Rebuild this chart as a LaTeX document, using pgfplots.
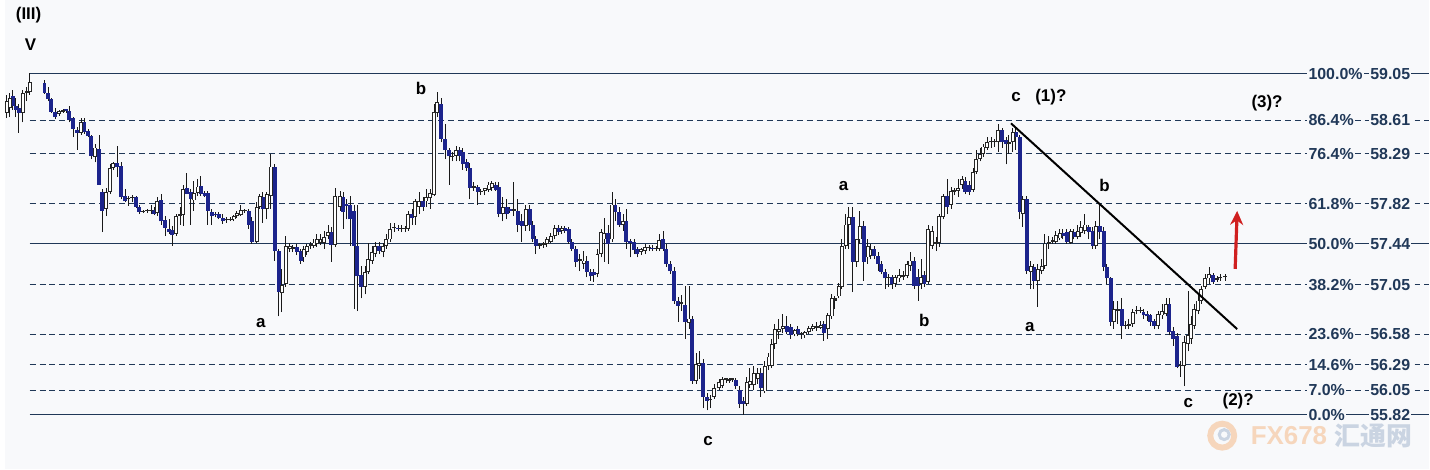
\documentclass[border=0pt]{standalone}
\usepackage{pgfplots}
\pgfplotsset{compat=1.18}
\usepackage{pgfplotstable}
\usepackage{fontspec}
\setmainfont{Liberation Sans}
\newfontfamily\cjk{Noto Sans CJK SC}
\usetikzlibrary{arrows.meta}

\definecolor{bgc}{RGB}{248,249,251}
\definecolor{fibcol}{RGB}{32,56,88}
\definecolor{bearc}{RGB}{28,36,140}
\definecolor{arrowred}{RGB}{208,32,32}
\definecolor{wmorange}{RGB}{246,214,188}
\definecolor{wmblue}{RGB}{202,212,226}

\tikzset{
  wave/.style={font=\bfseries\fontsize{8.5}{9}\selectfont, text=black},
  fiblab/.style={anchor=west, fill=bgc, inner sep=0.6pt, text=fibcol,
    font=\bfseries\fontsize{8}{9}\selectfont},
  solidfib/.style={draw=fibcol, line width=0.55pt},
  dashfib/.style={draw=fibcol, line width=0.5pt, dash pattern=on 3pt off 2pt},
}

% x = candle position, o h l c = open high low close
\pgfplotstableread{
x o h l c
2 58.68 58.85 58.63 58.79
5 58.73 58.87 58.64 58.82
8 58.84 58.90 58.71 58.74
11 58.74 58.82 58.64 58.71
14 58.73 58.76 58.49 58.68
18 58.68 58.90 58.59 58.87
22 58.87 58.92 58.79 58.89
25 58.88 59.06 58.85 58.97
40 58.96 58.99 58.86 58.87
44 58.87 58.92 58.79 58.81
47 58.81 58.82 58.68 58.69
51 58.69 58.73 58.62 58.64
55 58.67 58.71 58.65 58.70
59 58.69 58.72 58.68 58.70
62 58.71 58.72 58.68 58.70
65 58.70 58.74 58.59 58.61
69 58.63 58.64 58.45 58.53
73 58.52 58.55 58.33 58.49
77 58.49 58.63 58.47 58.59
80 58.59 58.63 58.48 58.50
84 58.51 58.53 58.45 58.46
87 58.46 58.47 58.24 58.27
91 58.26 58.38 58.21 58.35
95 58.34 58.47 58.00 58.00
98 57.93 57.96 57.55 57.75
102 57.77 57.97 57.70 57.93
106 57.93 58.19 57.91 58.16
109 58.16 58.21 58.14 58.20
113 58.20 58.37 58.07 58.17
117 58.18 58.21 57.86 57.88
121 57.89 57.96 57.83 57.84
124 57.86 57.89 57.80 57.87
128 57.87 57.90 57.83 57.88
132 57.88 57.89 57.78 57.79
135 57.79 57.81 57.72 57.74
139 57.74 57.76 57.73 57.75
143 57.75 57.77 57.73 57.76
147 57.75 57.81 57.72 57.76
150 57.76 57.79 57.71 57.72
153 57.73 57.88 57.70 57.84
157 57.85 57.91 57.62 57.65
161 57.66 57.70 57.51 57.59
165 57.58 57.67 57.53 57.55
168 57.57 57.61 57.42 57.52
172 57.53 57.72 57.51 57.70
176 57.70 57.79 57.62 57.72
179 57.71 58.00 57.61 57.96
183 57.97 58.11 57.91 57.91
187 57.93 57.96 57.62 57.86
190 57.85 58.03 57.75 57.92
194 57.92 58.05 57.89 57.98
197 57.99 58.08 57.89 57.91
201 57.92 57.94 57.88 57.89
204 57.92 57.94 57.62 57.75
208 57.74 57.77 57.62 57.70
212 57.72 57.74 57.69 57.71
215 57.72 57.74 57.67 57.68
219 57.68 57.72 57.63 57.65
223 57.66 57.69 57.64 57.67
227 57.66 57.69 57.65 57.67
230 57.67 57.71 57.65 57.70
233 57.70 57.75 57.68 57.73
237 57.71 57.81 57.70 57.76
241 57.75 57.77 57.73 57.76
245 57.75 57.77 57.58 57.62
248 57.65 57.69 57.44 57.46
253 57.46 57.83 57.45 57.79
256 57.79 57.91 57.77 57.89
259 57.88 57.93 57.64 57.77
263 57.77 57.93 57.67 57.91
267 57.89 58.29 57.77 58.17
271 58.17 58.19 57.28 57.37
275 57.37 57.39 56.75 56.98
278 56.97 57.20 56.79 57.05
282 57.06 57.51 57.03 57.42
286 57.39 57.45 57.36 57.42
289 57.39 57.43 57.36 57.41
293 57.41 57.44 57.33 57.36
297 57.37 57.39 57.25 57.28
300 57.31 57.42 57.27 57.39
303 57.36 57.44 57.33 57.42
307 57.42 57.46 57.39 57.43
310 57.42 57.48 57.40 57.45
313 57.44 57.53 57.41 57.48
317 57.45 57.53 57.43 57.48
321 57.45 57.56 57.39 57.50
325 57.51 57.62 57.48 57.55
328 57.55 57.60 57.27 57.43
332 57.43 57.97 57.41 57.89
337 57.79 57.94 57.75 57.89
340 57.88 57.93 57.58 57.74
343 57.81 57.86 57.67 57.80
347 57.81 57.89 57.42 57.67
351 57.75 57.81 56.82 57.42
354 57.42 57.81 56.80 57.13
358 57.14 57.23 56.92 57.03
362 57.03 57.23 56.96 57.17
365 57.17 57.45 57.15 57.29
369 57.28 57.42 57.25 57.36
372 57.34 57.46 57.31 57.42
376 57.42 57.46 57.34 57.37
380 57.36 57.45 57.31 57.42
383 57.42 57.53 57.39 57.48
387 57.48 57.64 57.46 57.58
391 57.59 57.64 57.55 57.60
395 57.59 57.62 57.56 57.58
398 57.58 57.62 57.55 57.59
402 57.58 57.61 57.55 57.59
405 57.58 57.75 57.56 57.72
409 57.72 57.77 57.62 57.68
412 57.69 57.86 57.62 57.84
416 57.79 57.93 57.72 57.84
420 57.84 57.88 57.75 57.79
423 57.84 57.96 57.79 57.88
427 57.87 57.96 57.77 57.92
431 57.90 58.76 57.89 58.69
434 58.68 58.88 58.64 58.78
438 58.76 58.82 58.40 58.43
442 58.43 58.57 58.24 58.33
446 58.33 58.35 58.00 58.27
449 58.26 58.31 58.22 58.27
453 58.27 58.37 58.22 58.33
457 58.33 58.36 58.22 58.27
460 58.31 58.35 58.14 58.19
464 58.21 58.24 58.13 58.16
467 58.16 58.20 57.86 57.97
471 57.97 58.02 57.94 57.98
475 57.98 58.00 57.81 57.93
478 57.93 57.96 57.90 57.94
482 57.94 57.97 57.90 57.97
486 57.95 58.02 57.93 58.00
489 57.97 58.03 57.94 58.01
493 58.00 58.02 57.94 57.95
496 57.98 58.02 57.69 57.72
500 57.72 57.88 57.65 57.79
504 57.79 57.86 57.67 57.72
507 57.77 57.79 57.73 57.75
511 57.75 58.02 57.70 57.77
515 57.75 57.86 57.55 57.62
519 57.65 57.72 57.46 57.61
523 57.61 57.81 57.56 57.77
527 57.77 57.81 57.56 57.62
530 57.62 57.65 57.46 57.48
533 57.48 57.51 57.34 57.42
537 57.42 57.45 57.39 57.43
541 57.43 57.46 57.40 57.44
544 57.44 57.50 57.41 57.48
548 57.46 57.54 57.45 57.51
552 57.51 57.62 57.48 57.59
556 57.59 57.62 57.52 57.55
559 57.56 57.61 57.53 57.59
562 57.59 57.61 57.54 57.56
566 57.58 57.60 57.44 57.46
569 57.46 57.48 57.37 57.39
573 57.39 57.42 57.22 57.27
577 57.28 57.34 57.18 57.29
581 57.25 57.37 57.20 57.28
584 57.28 57.32 57.12 57.17
588 57.17 57.20 57.09 57.13
591 57.17 57.20 57.08 57.14
595 57.15 57.39 57.12 57.34
599 57.34 57.58 57.31 57.55
602 57.48 57.68 57.27 57.54
606 57.54 57.62 57.25 57.44
610 57.48 57.93 57.46 57.81
613 57.81 57.86 57.65 57.74
617 57.74 57.79 57.60 57.62
621 57.62 57.72 57.56 57.65
624 57.65 57.77 57.39 57.46
628 57.46 57.48 57.31 57.45
632 57.46 57.48 57.34 57.38
635 57.39 57.41 57.31 57.34
639 57.36 57.40 57.33 57.39
643 57.37 57.44 57.34 57.41
647 57.40 57.43 57.37 57.41
650 57.40 57.43 57.37 57.39
654 57.39 57.42 57.37 57.40
657 57.39 57.53 57.37 57.47
661 57.48 57.56 57.37 57.39
664 57.39 57.44 57.22 57.25
668 57.25 57.28 57.15 57.18
672 57.18 57.22 56.87 56.90
676 56.90 56.93 56.70 56.85
679 56.87 56.95 56.80 56.89
683 56.86 57.04 56.54 56.70
687 56.69 57.04 56.63 56.73
690 56.73 56.75 56.11 56.14
694 56.14 56.40 56.11 56.30
697 56.28 56.42 56.16 56.31
701 56.31 56.35 55.88 55.99
705 55.99 56.02 55.86 55.95
708 55.96 56.01 55.88 55.97
712 55.99 56.11 55.97 56.07
717 56.07 56.16 56.05 56.13
720 56.09 56.18 56.07 56.16
724 56.15 56.17 56.12 56.16
727 56.14 56.17 56.12 56.16
730 56.15 56.17 56.13 56.15
734 56.15 56.17 56.06 56.09
738 56.05 56.09 55.88 55.92
742 55.95 55.99 55.82 55.92
745 55.92 56.18 55.90 56.13
748 56.10 56.26 56.07 56.14
752 56.10 56.28 56.05 56.21
756 56.16 56.26 56.11 56.21
759 56.21 56.26 55.99 56.07
763 56.04 56.33 56.02 56.28
767 56.28 56.40 56.24 56.37
770 56.28 56.54 56.26 56.49
773 56.49 56.68 56.44 56.63
777 56.60 56.73 56.54 56.63
781 56.63 56.77 56.59 56.66
785 56.66 56.75 56.58 56.60
789 56.65 56.68 56.54 56.57
793 56.58 56.63 56.56 56.62
796 56.63 56.66 56.56 56.58
800 56.58 56.60 56.54 56.59
803 56.57 56.61 56.55 56.60
807 56.60 56.66 56.58 56.64
811 56.63 56.68 56.61 56.66
815 56.64 56.70 56.61 56.66
819 56.64 56.71 56.63 56.67
822 56.68 56.71 56.52 56.59
826 56.63 56.78 56.54 56.76
830 56.75 56.96 56.73 56.92
833 56.90 56.94 56.82 56.92
837 56.94 57.07 56.92 57.04
840 57.03 57.48 57.01 57.42
844 57.42 57.72 57.39 57.62
847 57.62 57.79 57.39 57.69
851 57.69 57.79 56.98 57.27
855 57.27 57.34 57.22 57.48
858 57.48 57.75 57.44 57.61
862 57.61 57.65 57.09 57.27
866 57.31 57.48 57.25 57.42
869 57.32 57.44 57.29 57.39
873 57.39 57.42 57.29 57.32
877 57.32 57.36 57.18 57.25
880 57.25 57.28 57.15 57.17
884 57.17 57.20 57.01 57.11
887 57.11 57.15 57.03 57.12
891 57.12 57.14 57.01 57.06
894 57.06 57.14 57.03 57.12
898 57.11 57.20 57.08 57.14
902 57.12 57.18 57.10 57.14
906 57.13 57.28 57.11 57.25
909 57.23 57.36 57.18 57.28
913 57.28 57.31 57.01 57.04
917 57.12 57.20 56.90 57.04
920 57.06 57.29 57.01 57.12
923 57.14 57.18 57.03 57.06
927 57.08 57.62 57.06 57.58
931 57.42 57.61 57.39 57.56
935 57.44 57.50 57.37 57.46
938 57.45 57.72 57.41 57.70
942 57.69 57.91 57.67 57.89
946 57.89 58.05 57.72 57.79
950 57.81 57.98 57.77 57.94
953 57.93 57.97 57.90 57.95
957 57.94 58.05 57.88 57.97
961 58.00 58.08 57.96 58.05
964 58.03 58.07 57.91 57.93
968 58.00 58.03 57.90 57.93
972 57.95 58.16 57.93 58.12
975 58.12 58.33 58.10 58.24
979 58.24 58.35 58.22 58.29
982 58.29 58.38 58.26 58.36
986 58.35 58.45 58.33 58.40
990 58.40 58.45 58.35 58.41
993 58.40 58.43 58.36 58.41
997 58.40 58.57 58.31 58.52
1001 58.52 58.54 58.35 58.40
1005 58.42 58.45 58.19 58.38
1008 58.38 58.47 58.29 58.40
1012 58.40 58.54 58.31 58.50
1015 58.50 58.54 58.33 58.45
1019 58.45 58.47 57.67 57.74
1022 57.72 57.89 57.60 57.86
1026 57.86 57.89 57.15 57.18
1030 57.17 57.28 57.01 57.23
1033 57.22 57.25 57.01 57.09
1037 57.09 57.25 56.84 57.20
1041 57.18 57.29 57.15 57.23
1044 57.23 57.53 57.20 57.44
1048 57.44 57.51 57.39 57.46
1052 57.46 57.50 57.44 57.47
1055 57.46 57.56 57.44 57.52
1059 57.49 57.58 57.47 57.54
1062 57.54 57.58 57.48 57.51
1066 57.55 57.58 57.44 57.46
1070 57.45 57.58 57.44 57.56
1073 57.55 57.58 57.48 57.50
1077 57.50 57.62 57.48 57.56
1080 57.54 57.65 57.50 57.60
1084 57.56 57.72 57.53 57.62
1088 57.60 57.62 57.48 57.55
1092 57.56 57.60 57.39 57.42
1095 57.42 57.65 57.39 57.61
1099 57.61 57.81 57.48 57.55
1103 57.56 57.60 57.18 57.22
1106 57.22 57.25 57.06 57.11
1110 57.11 57.12 56.66 56.70
1113 56.70 56.90 56.63 56.82
1117 56.80 56.90 56.68 56.82
1121 56.82 56.92 56.54 56.66
1125 56.66 56.71 56.63 56.67
1128 56.66 56.73 56.63 56.68
1132 56.68 56.82 56.65 56.79
1136 56.80 56.85 56.77 56.81
1140 56.80 56.84 56.78 56.81
1143 56.79 56.82 56.73 56.76
1147 56.77 56.80 56.71 56.75
1150 56.76 56.77 56.66 56.70
1154 56.71 56.73 56.63 56.66
1158 56.66 56.80 56.63 56.77
1162 56.76 56.87 56.73 56.80
1166 56.77 56.92 56.75 56.87
1169 56.87 56.92 56.57 56.60
1173 56.61 56.65 56.47 56.54
1177 56.56 56.59 56.26 56.27
1180 56.28 56.33 56.18 56.29
1184 56.28 56.56 56.09 56.51
1188 56.49 56.99 56.42 56.57
1191 56.54 56.75 56.49 56.68
1194 56.66 56.87 56.63 56.82
1198 56.80 56.95 56.77 56.90
1201 56.90 57.04 56.87 57.01
1205 57.03 57.15 57.01 57.11
1209 57.11 57.22 57.06 57.15
1213 57.14 57.16 57.06 57.08
1217 57.10 57.13 57.08 57.11
1220 57.11 57.15 57.09 57.12
1225 57.12 57.15 57.09 57.13
}\candles

\begin{document}
\begin{tikzpicture}
\begin{axis}[
  x=0.5pt, y=52.95pt,
  xmin=0, xmax=1430, ymin=55.301, ymax=59.749,
  axis lines=none, ticks=none, clip=false,
  axis background/.style={fill=bgc},
  every axis plot/.append style={forget plot},
]
% Fibonacci levels
\addplot[solidfib] coordinates {(25,59.05) (1430,59.05)};
\addplot[dashfib] coordinates {(25,58.61) (1430,58.61)};
\addplot[dashfib] coordinates {(25,58.29) (1430,58.29)};
\addplot[dashfib] coordinates {(25,57.82) (1430,57.82)};
\addplot[solidfib] coordinates {(25,57.44) (1430,57.44)};
\addplot[dashfib] coordinates {(25,57.05) (1430,57.05)};
\addplot[dashfib] coordinates {(25,56.58) (1430,56.58)};
\addplot[dashfib] coordinates {(25,56.29) (1430,56.29)};
\addplot[dashfib] coordinates {(25,56.05) (1430,56.05)};
\addplot[solidfib] coordinates {(25,55.82) (1430,55.82)};

% wicks
\addplot[draw=none, mark=none, error bars/.cd, y dir=plus, y explicit,
  error mark=none, error bar style={draw=black!90, line width=0.5pt}]
  table[x=x, y=l, y error plus expr=\thisrow{h}-\thisrow{l}] {\candles};
% bearish bodies
\addplot[draw=none, mark=none,
  restrict expr to domain={\thisrow{o}-\thisrow{c}}{0.0001:10},
  error bars/.cd, y dir=plus, y explicit, error mark=none,
  error bar style={draw=bearc, line width=2pt}]
  table[x=x, y=c, y error plus expr={max(\thisrow{o}-\thisrow{c},0.012)}] {\candles};
% bullish bodies: outline, then white inside
\addplot[draw=none, mark=none,
  restrict expr to domain={\thisrow{c}-\thisrow{o}}{0:10},
  error bars/.cd, y dir=plus, y explicit, error mark=none,
  error bar style={draw=black!85, line width=2pt}]
  table[x=x, y=o, y error plus expr={max(\thisrow{c}-\thisrow{o},0.012)}] {\candles};
\addplot[draw=none, mark=none,
  restrict expr to domain={\thisrow{c}-\thisrow{o}}{0.025:10},
  error bars/.cd, y dir=plus, y explicit, error mark=none,
  error bar style={draw=white, line width=1pt}]
  table[x=x, y expr=\thisrow{o}+0.008, y error plus expr={\thisrow{c}-\thisrow{o}-0.016}] {\candles};

% trend line
\addplot[black, line width=1pt] coordinates {(1010,58.58) (1237,56.63)};
% red arrow
\draw[arrowred, line width=1.6pt, -{Stealth[length=7pt, width=6.5pt]}]
  (axis cs:1235,57.20) -- (axis cs:1237,57.75);

% level labels
\node[fiblab] at (axis cs:1307,59.05) {100.0\%};
\node[fiblab] at (axis cs:1307,58.61) {86.4\%};
\node[fiblab] at (axis cs:1307,58.29) {76.4\%};
\node[fiblab] at (axis cs:1307,57.82) {61.8\%};
\node[fiblab] at (axis cs:1307,57.44) {50.0\%};
\node[fiblab] at (axis cs:1307,57.05) {38.2\%};
\node[fiblab] at (axis cs:1307,56.58) {23.6\%};
\node[fiblab] at (axis cs:1307,56.29) {14.6\%};
\node[fiblab] at (axis cs:1307,56.05) {7.0\%};
\node[fiblab] at (axis cs:1307,55.82) {0.0\%};
\node[fiblab] at (axis cs:1369,59.05) {59.05};
\node[fiblab] at (axis cs:1369,58.61) {58.61};
\node[fiblab] at (axis cs:1369,58.29) {58.29};
\node[fiblab] at (axis cs:1369,57.82) {57.82};
\node[fiblab] at (axis cs:1369,57.44) {57.44};
\node[fiblab] at (axis cs:1369,57.05) {57.05};
\node[fiblab] at (axis cs:1369,56.58) {56.58};
\node[fiblab] at (axis cs:1369,56.29) {56.29};
\node[fiblab] at (axis cs:1369,56.05) {56.05};
\node[fiblab] at (axis cs:1369,55.82) {55.82};

% wave labels
\node[wave] at (axis cs:24,59.607) {(III)};
\node[wave] at (axis cs:26,59.324) {V};
\node[wave] at (axis cs:257,56.690) {a};
\node[wave] at (axis cs:418,58.909) {b};
\node[wave] at (axis cs:706,55.566) {c};
\node[wave] at (axis cs:842,57.983) {a};
\node[wave] at (axis cs:923,56.708) {b};
\node[wave] at (axis cs:1015,58.833) {c};
\node[wave] at (axis cs:1050,58.833) {(1)?};
\node[wave] at (axis cs:1104,57.993) {b};
\node[wave] at (axis cs:1029,56.652) {a};
\node[wave] at (axis cs:1188,55.925) {c};
\node[wave] at (axis cs:1238,55.944) {(2)?};
\node[wave] at (axis cs:1267,58.776) {(3)?};

% watermark
\draw[wmorange, line width=3pt] (axis cs:1222,55.62) circle (6pt);
\draw[wmblue, line width=1.5pt] (axis cs:1224,55.63) circle (2.5pt);
\node[text=wmorange, font=\bfseries\fontsize{13}{14}\selectfont] at (axis cs:1289,55.62) {FX678};
\node[text=wmblue, font=\cjk\bfseries\fontsize{13}{14}\selectfont] at (axis cs:1374,55.62) {汇通网};
\end{axis}
\end{tikzpicture}
\end{document}
